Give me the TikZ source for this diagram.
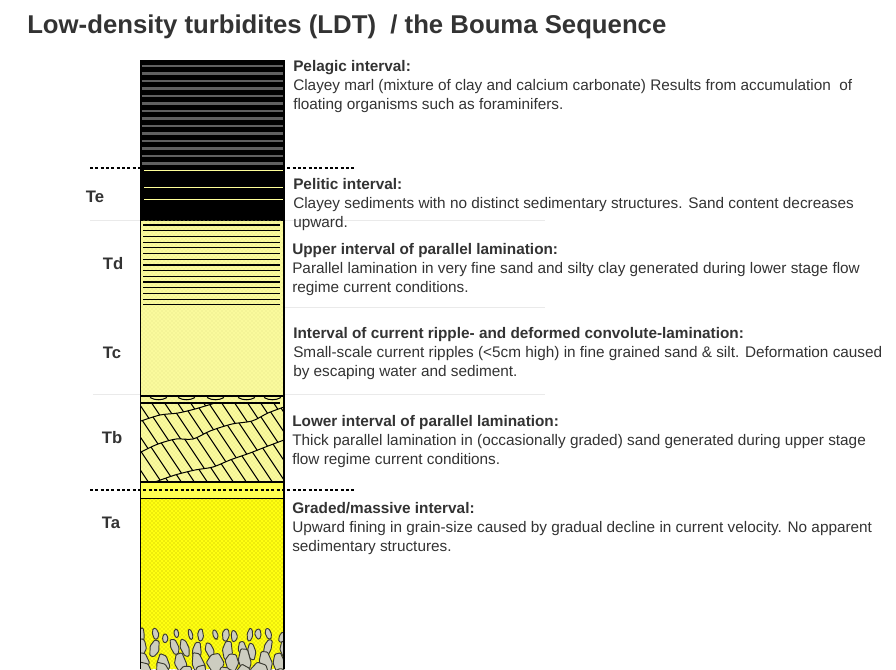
\documentclass[tikz,border=0pt]{standalone}
\usepackage{fontspec}
\setmainfont{Liberation Sans}
\usetikzlibrary{patterns}
\definecolor{txt}{HTML}{333333}
\definecolor{paleY}{HTML}{FAFA9C}
\definecolor{paleDot}{HTML}{E2E28A}
\definecolor{brightY}{HTML}{FFFF10}
\definecolor{brightDot}{HTML}{B8B000}
\definecolor{bandY}{HTML}{FFFF50}
\definecolor{pelGray}{HTML}{606060}
\definecolor{teY}{HTML}{FFFF99}
\definecolor{sepC}{HTML}{EAEAEA}
\definecolor{pebF}{HTML}{CDCDC0}
\definecolor{pebD}{HTML}{3A3A30}
\begin{document}
\begin{tikzpicture}[x=0.75pt,y=-0.75pt,
  body/.style={anchor=base west, inner sep=0pt, text=txt, font=\fontsize{11.5}{14}\selectfont},
  head/.style={anchor=base west, inner sep=0pt, text=txt, font=\fontsize{11.5}{14}\selectfont\bfseries},
  lab/.style={anchor=base, inner sep=0pt, text=txt, font=\fontsize{12.5}{14}\selectfont\bfseries},
  titlest/.style={anchor=base west, inner sep=0pt, text=txt, font=\fontsize{19.3}{22}\selectfont\bfseries},
  dotline/.style={line width=1.5pt, dash pattern=on 2.2pt off 1.8pt},
  sepline/.style={draw=sepC, line width=0.75pt},
  lam/.style={line width=0.9pt, black},
  surf/.style={line width=0.75pt, black},
  border/.style={line width=0.8pt, black},
  pebble/.style={fill=pebF, draw=pebD, line width=0.7pt, rounded corners=0.8pt}]

\useasboundingbox (0,0) rectangle (896,669);
\fill[white] (0,0) rectangle (896,669);

% separators
\draw[sepline] (90,220.5) -- (545,220.5);
\draw[sepline] (140,307.5) -- (545,307.5);
\draw[sepline] (93,394) -- (545,394);

% upper dotted line
\draw[dotline] (90,168) -- (355,168);

% pelagic + Te (black)
\fill[black] (140.5,61) rectangle (284,220.5);
\foreach \k in {0,...,13} \draw[pelGray, line width=2.1pt] (141.7,{66+7.5*\k}) -- (282.7,{66+7.5*\k});
\foreach \yy in {170.3,187.3,199.3} \draw[teY, line width=0.75pt] (144,\yy) -- (282.7,\yy);

% Td, Tc, Tb pale
\fill[paleY] (140.5,220.5) rectangle (284,482);
\fill[pattern=crosshatch dots, pattern color=paleDot] (140.5,220.5) rectangle (284,482);
\foreach \k in {0,...,14} \draw[lam] (143,{225+5.7*\k}) -- (280,{225+5.7*\k});

% Tb cross-lamination sets
\begin{scope}
\clip (141,403) -- (216,403) -- plot[smooth] coordinates {(215,403) (195,409) (178,413) (160,415) (141,421)} -- cycle;
\foreach \k in {-8,...,26} \draw[surf] ({13*\k},390) -- ++(62,93);
\end{scope}
\begin{scope}
\clip plot[smooth] coordinates {(141,421) (160,415) (178,413) (195,409) (215,403)} -- (284,403) -- plot[smooth] coordinates {(284,407) (268,413) (252,421) (232,424) (210,431) (193,439) (176,439) (158,444) (141,452)} -- cycle;
\foreach \k in {-8,...,26} \draw[surf] ({5+13*\k},390) -- ++(62,93);
\end{scope}
\begin{scope}
\clip plot[smooth] coordinates {(141,452) (158,444) (176,439) (193,439) (210,431) (232,424) (252,421) (268,413) (284,407)} -- (284,440) -- plot[smooth] coordinates {(284,440) (268,446) (250,453) (230,460) (213,467) (195,470) (175,475) (155,482)} -- (141,482) -- cycle;
\foreach \k in {-8,...,26} \draw[surf] ({9+13*\k},390) -- ++(62,93);
\end{scope}
\begin{scope}
\clip (155,482) -- plot[smooth] coordinates {(155,482) (175,475) (195,470) (213,467) (230,460) (250,453) (268,446) (284,440)} -- (284,482) -- cycle;
\foreach \k in {-8,...,26} \draw[surf] ({3+13*\k},390) -- ++(62,93);
\end{scope}
\draw[surf] plot[smooth] coordinates {(141,421) (160,415) (178,413) (195,409) (215,403)};
\draw[surf] plot[smooth] coordinates {(141,452) (158,444) (176,439) (193,439) (210,431) (232,424) (252,421) (268,413) (284,407)};
\draw[surf] plot[smooth] coordinates {(155,482) (175,475) (195,470) (213,467) (230,460) (250,453) (268,446) (284,440)};
% ripples in top band
\foreach \x in {150,178,207,238,264} \draw[surf] (\x,397.5) .. controls ({\x+5},400.5) and ({\x+12},400.5) .. ({\x+17},397.5);
\draw[border] (140.5,396) -- (284,396);
\draw[border] (140.5,403) -- (280,403);

% band + Ta
\fill[bandY] (140.5,482) rectangle (284,498.5);
\fill[brightY] (140.5,498.5) rectangle (284,669);
\fill[pattern=crosshatch dots, pattern color=brightDot] (140.5,498.5) rectangle (284,669);
\draw[border] (140.5,482) -- (284,482);
\draw[border] (140.5,498.5) -- (284,498.5);

% pebbles
\begin{scope}
\clip (140.5,618) rectangle (284,669);
\pgfmathsetseed{42}
\foreach \yy/\n/\rr/\sz in {636/12/3/6.5, 649/10/5/9.5, 662/8/7.5/12.5, 675/7/9/14} {
  \foreach \i in {0,...,\n} {
    \pgfmathsetmacro\xx{144+\i*138/\n+(rnd-0.5)*7}
    \pgfmathsetmacro\yj{\yy+(rnd-0.5)*6}
    \pgfmathsetmacro\rx{\rr*(0.8+rnd*0.45)}
    \pgfmathsetmacro\ry{\sz*(0.8+rnd*0.4)}
    \pgfmathsetmacro\an{(rnd-0.5)*40}
    \pgfmathsetmacro\fa{0.8+rnd*0.3}
    \pgfmathsetmacro\fb{0.8+rnd*0.3}
    \pgfmathsetmacro\fc{0.8+rnd*0.3}
    \pgfmathsetmacro\fd{0.8+rnd*0.3}
    \pgfmathsetmacro\fe{0.8+rnd*0.3}
    \pgfmathsetmacro\ff{0.8+rnd*0.3}
    \begin{scope}[shift={(\xx,\yj)}, rotate=\an]
      \draw[pebble] (10:{\rx*\fa} and {\ry*\fa}) -- (70:{\rx*\fb} and {\ry*\fb}) -- (125:{\rx*\fc} and {\ry*\fc}) -- (190:{\rx*\fd} and {\ry*\fd}) -- (250:{\rx*\fe} and {\ry*\fe}) -- (305:{\rx*\ff} and {\ry*\ff}) -- cycle;
    \end{scope}
  }
}
\end{scope}

% column border
\draw[border] (140.5,669) -- (140.5,61) -- (284,61) -- (284,669);

% lower dotted line
\draw[dotline] (90,490) -- (355,490);

% title
\node[titlest] (title) at (27,33) {Low-density turbidites (LDT)\ \ / the Bouma Sequence};

% labels
\node[lab] (te) at (95,202.5) {Te};
\node[lab] (td) at (113,269.5) {Td};
\node[lab] (tc) at (112,358) {Tc};
\node[lab] (tb) at (112,443.5) {Tb};
\node[lab] (ta) at (111,528.5) {Ta};

% descriptions
\node[head] (h1) at (293,71) {Pelagic interval:};
\node[body] (b1a) at (293,90) {Clayey marl (mixture of clay and calcium carbonate) Results from accumulation\ \ of};
\node[body] (b1b) at (293,109) {floating organisms such as foraminifers.};

\node[head] (h2) at (293,189.5) {Pelitic interval:};
\node[body] (b2a) at (293,208.5) {Clayey sediments with no distinct sedimentary structures. Sand content decreases};
\node[body] (b2b) at (293,227) {upward.};

\node[head] (h3) at (292,254.5) {Upper interval of parallel lamination:};
\node[body] (b3a) at (292,273.5) {Parallel lamination in very fine sand and silty clay generated during lower stage flow};
\node[body] (b3b) at (292,292.5) {regime current conditions.};

\node[head] (h4) at (293,338.5) {Interval of current ripple- and deformed convolute-lamination:};
\node[body] (b4a) at (293,357.5) {Small-scale current ripples (<5cm high) in fine grained sand \& silt. Deformation caused};
\node[body] (b4b) at (293,376) {by escaping water and sediment.};

\node[head] (h5) at (292,426.5) {Lower interval of parallel lamination:};
\node[body] (b5a) at (292,445.5) {Thick parallel lamination in (occasionally graded) sand generated during upper stage};
\node[body] (b5b) at (292,464.5) {flow regime current conditions.};

\node[head] (h6) at (292,513.5) {Graded/massive interval:};
\node[body] (b6a) at (292,532.5) {Upward fining in grain-size caused by gradual decline in current velocity. No apparent};
\node[body] (b6b) at (292,551) {sedimentary structures.};
\end{tikzpicture}
\end{document}
